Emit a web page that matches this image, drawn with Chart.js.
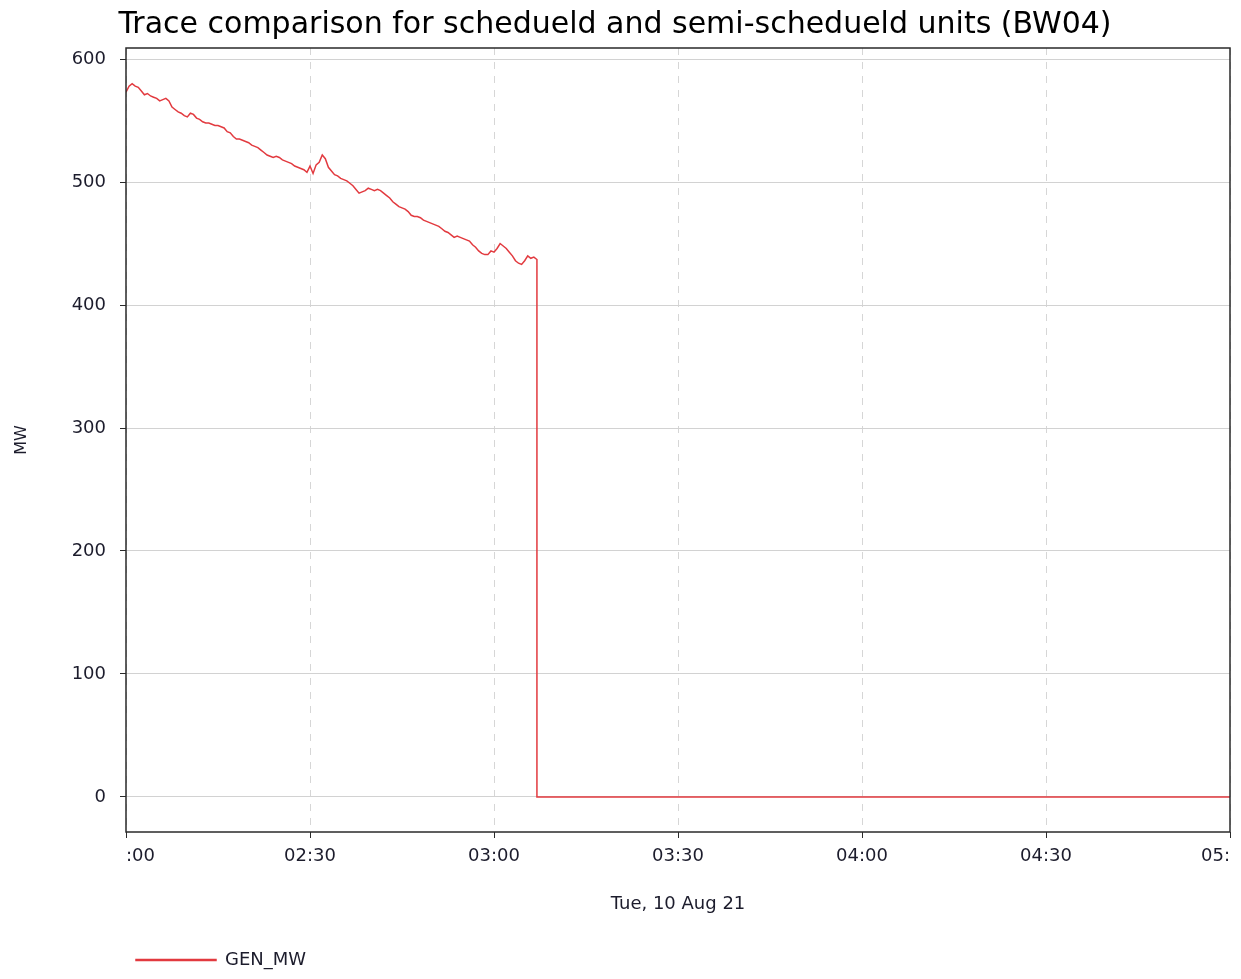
<!DOCTYPE html>
<html>
<head>
<meta charset="utf-8">
<script src="https://cdn.jsdelivr.net/npm/chart.js@4"></script>
<style>
  html, body { margin: 0; padding: 0; background: #fff; }
  #wrap { width: 1241px; height: 979px; position: relative; }
</style>
</head>
<body>
<div id="wrap"><canvas id="chart"></canvas></div>
<script>
// 30-second samples from 02:00, Tue 10 Aug 21 (minutes after 02:00)
const sampleStep = 0.5;
const genMW = [
  573, 578, 580, 578, 577, 574, 571, 572, 570, 569, 568, 566, 567, 568, 566, 561, 559, 557, 556, 554,
  553, 556, 555, 552, 551, 549, 548, 548, 547, 546, 546, 545, 544, 541, 540, 537, 535, 535, 534, 533,
  532, 530, 529, 528, 526, 524, 522, 521, 520, 521, 520, 518, 517, 516, 515, 513, 512, 511, 510, 508,
  513, 507, 514, 516, 522, 519, 512, 509, 506, 505, 503, 502, 501, 499, 497, 494, 491, 492, 493, 495,
  494, 493, 494, 493, 491, 489, 487, 484, 482, 480, 479, 478, 476, 473, 472, 472, 471, 469, 468, 467,
  466, 465, 464, 462, 460, 459, 457, 455, 456, 455, 454, 453, 452, 449, 447, 444, 442, 441, 441, 444,
  443, 446, 450, 448, 446, 443, 440, 436, 434, 433, 436, 440, 438, 439, 437];
// unit trips at ~03:07 and stays at zero
const tripMinute = 67;
const endMinute = 180;
const yTicks = [0, 100, 200, 300, 400, 500, 600];
const xTickLabels = { 0: ':00', 30: '02:30', 60: '03:00', 90: '03:30', 120: '04:00', 150: '04:30', 180: '05:' };

const points = genMW.map((v, i) => ({ x: i * sampleStep, y: v }));
points.push({ x: tripMinute, y: 0 }, { x: endMinute, y: 0 });

const FONT = 'Tahoma, "DejaVu Sans", sans-serif';
const TEXT = '#1c1c2c';

const frame = {
  id: 'frame',
  afterDatasetsDraw(chart) {
    const a = chart.chartArea, ctx = chart.ctx;
    ctx.save();
    ctx.strokeStyle = '#2a2a2a';
    ctx.lineWidth = 1.5;
    ctx.strokeRect(a.left, a.top, a.right - a.left, a.bottom - a.top);
    ctx.restore();
  }
};

new Chart(document.getElementById('chart'), {
  type: 'line',
  data: {
    datasets: [{
      label: 'GEN_MW',
      data: points,
      borderColor: '#e23a3f',
      backgroundColor: '#e23a3f',
      borderWidth: 1.5,
      pointRadius: 0,
      tension: 0
    }]
  },
  options: {
    responsive: true,
    maintainAspectRatio: false,
    animation: false,
    layout: { padding: { left: 0, right: 11, top: 0, bottom: 0 } },
    plugins: {
      title: {
        display: true,
        text: 'Trace comparison for schedueld and semi-schedueld units (BW04)',
        color: '#000',
        font: { family: FONT, size: 30, weight: 'normal' },
        padding: { top: 7, bottom: 5 }
      },
      legend: {
        position: 'bottom',
        align: 'start',
        fullSize: false,
        labels: {
          boxWidth: 80,
          boxHeight: 1,
          padding: 10,
          color: TEXT,
          font: { family: FONT, size: 18 }
        }
      },
      tooltip: { enabled: false }
    },
    scales: {
      x: {
        type: 'linear',
        min: 0,
        max: endMinute,
        afterFit: s => { s.height = 109; s.paddingLeft = 0; s.paddingRight = 0; },
        afterBuildTicks: s => { s.ticks = Object.keys(xTickLabels).map(v => ({ value: +v })); },
        ticks: {
          callback: v => xTickLabels[v],
          color: TEXT,
          padding: 8,
          align: 'inner',
          maxRotation: 0,
          autoSkip: false,
          font: { family: FONT, size: 18 }
        },
        grid: {
          color: '#d6d6d6',
          tickColor: '#2a2a2a',
          tickLength: 6,
          tickBorderDash: [],
          lineWidth: 1
        },
        border: { display: false, dash: [7, 7] },
        title: {
          display: true,
          text: 'Tue, 10 Aug 21',
          color: TEXT,
          font: { family: FONT, size: 18 },
          padding: { top: 4, bottom: 26 }
        }
      },
      y: {
        min: -28.5,
        max: 609,
        afterFit: s => { s.width = 126; },
        afterBuildTicks: s => { s.ticks = yTicks.map(v => ({ value: v })); },
        ticks: {
          color: TEXT,
          padding: 14,
          font: { family: FONT, size: 18 }
        },
        grid: {
          color: '#d2d2d2',
          tickColor: '#2a2a2a',
          tickLength: 6,
          lineWidth: 1
        },
        border: { display: false },
        title: {
          display: true,
          text: 'MW',
          color: TEXT,
          font: { family: FONT, size: 16 },
          padding: { top: 12, bottom: 8 }
        }
      }
    }
  },
  plugins: [frame]
});
</script>
</body>
</html>
